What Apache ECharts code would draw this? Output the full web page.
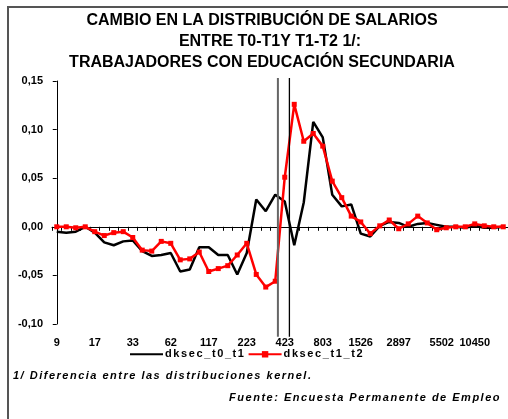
<!DOCTYPE html>
<html><head><meta charset="utf-8">
<script src="https://cdn.jsdelivr.net/npm/echarts@6/dist/echarts.min.js"></script>
<style>html,body{margin:0;padding:0;background:#fff}#c{width:508px;height:419px}</style>
</head><body><div id="c"></div>
<script>
// Optional letter-spacing for texts whose font family list includes a "trkNN" marker (NN = tenths of px)
(function(){
  var P = window.CanvasRenderingContext2D && CanvasRenderingContext2D.prototype;
  if (!P) return;
  var d = Object.getOwnPropertyDescriptor(P, 'font');
  if (!d || !('letterSpacing' in P)) return;
  Object.defineProperty(P, 'font', {
    configurable: true,
    get: function(){ return d.get.call(this); },
    set: function(v){
      d.set.call(this, v);
      var m = /trk(\d+)/.exec(v);
      this.letterSpacing = m ? (m[1] / 10) + 'px' : '0px';
    }
  });
})();

const categories = ['9','11','12','15','17','20','24','28','33','38','45','53','62','72','85','100',
  '117','137','161','189','223','261','307','360','423','496','582','684','803','942','1106','1298',
  '1526','1790','2101','2467','2897','3399','3991','4685','5502','6459','7583','8902','10450','12268','14402','16907'];

const dksec_t0_t1 = [-0.005,-0.006,-0.005,0.000,-0.006,-0.016,-0.019,-0.015,-0.014,-0.025,-0.030,-0.029,
  -0.027,-0.046,-0.044,-0.021,-0.021,-0.029,-0.029,-0.049,-0.027,0.028,0.016,0.033,0.026,-0.019,0.025,0.108,
  0.092,0.033,0.021,0.023,-0.007,-0.010,0.001,0.005,0.004,0.000,0.003,0.004,0.002,0.000,0.000,-0.001,0.001,
  -0.001,-0.001,0.000];

const dksec_t1_t2 = [0.000,0.000,-0.001,0.000,-0.005,-0.009,-0.006,-0.005,-0.011,-0.024,-0.025,-0.015,
  -0.017,-0.034,-0.033,-0.026,-0.046,-0.043,-0.040,-0.029,-0.017,-0.049,-0.062,-0.056,0.051,0.126,0.088,0.096,
  0.083,0.047,0.030,0.011,0.005,-0.007,0.001,0.007,-0.002,0.003,0.011,0.004,-0.003,-0.001,0.000,0.000,0.003,
  0.001,0.000,0.000];

// vertical reference lines: position on the category index scale, and their vertical extent
const refLineX = [23.28, 24.49];
const refLineRange = [-0.113, 0.153];

const yMin = -0.10, yMax = 0.15, yStep = 0.05;

const titleLines = ['CAMBIO EN LA DISTRIBUCIÓN DE SALARIOS', 'ENTRE T0-T1Y T1-T2 1/:', 'TRABAJADORES CON EDUCACIÓN SECUNDARIA'];
const noteText = '1/ Diferencia entre las distribuciones kernel.';
const sourceText = 'Fuente: Encuesta Permanente de Empleo';
const shiftedLabel = '5502';

const FF = '"Liberation Sans", Arial, sans-serif';
const FFT = '"Liberation Sans", Arial, trk16, sans-serif';
const FFN = '"Liberation Sans", Arial, trk15, sans-serif';

const chart = echarts.init(document.getElementById('c'), null, {renderer: 'canvas'});

const n = categories.length;
chart.setOption({
  animation: false,
  backgroundColor: '#fff',
  grid: {left: 52, top: 81, width: n * 9.625, height: 243},
  xAxis: [
    {
      type: 'category', data: categories, boundaryGap: true, position: 'bottom',
      axisLine: {onZero: true, lineStyle: {color: '#000', width: 1}},
      axisTick: {show: true, interval: 0, length: 4, lineStyle: {color: '#000', width: 1}},
      axisLabel: {show: false}, splitLine: {show: false}
    },
    {
      type: 'category', data: categories, boundaryGap: true, position: 'bottom',
      axisLine: {show: false, onZero: false}, axisTick: {show: false},
      axisLabel: {show: true, interval: 3, margin: 13, color: '#000', fontWeight: 'bold', fontSize: 11, fontFamily: FF,
        formatter: function(v){ return v === shiftedLabel ? '{s|' + v + '}' : v; },
        rich: {s: {color: '#000', fontWeight: 'bold', fontSize: 11, fontFamily: FF, padding: [0, 0, 0, 10]}}},
      splitLine: {show: false}
    },
    {
      type: 'value', min: -0.5, max: n - 0.5, show: false, position: 'top'
    }
  ],
  yAxis: {
    type: 'value', min: yMin, max: yMax, interval: yStep,
    axisLine: {show: true, lineStyle: {color: '#000', width: 1}},
    axisTick: {show: true, length: 4, lineStyle: {color: '#000'}},
    axisLabel: {margin: 9, color: '#000', fontWeight: 'bold', fontSize: 11, fontFamily: FF,
      formatter: function(v){ return v.toFixed(2).replace('.', ','); }},
    splitLine: {show: false}
  },
  legend: {
    left: 129, top: 348, padding: 0, itemWidth: 33, itemHeight: 8, itemGap: 2,
    data: [
      {name: 'dksec_t0_t1', itemStyle: {opacity: 0}},
      {name: 'dksec_t1_t2'}
    ],
    textStyle: {color: '#000', fontWeight: 'bold', fontSize: 11, fontFamily: FFT, padding: [0,0,0,-3]}
  },
  series: [
    {
      name: 'dksec_t0_t1', type: 'line', xAxisIndex: 0, data: dksec_t0_t1,
      symbol: 'none', lineStyle: {color: '#000', width: 2.5}, itemStyle: {color: '#000'}, z: 3
    },
    {
      name: 'dksec_t1_t2', type: 'line', xAxisIndex: 0, data: dksec_t1_t2,
      symbol: 'rect', symbolSize: 5, showAllSymbol: true,
      lineStyle: {color: '#ff0000', width: 2.5}, itemStyle: {color: '#ff0000'}, z: 4
    },
    {
      type: 'line', xAxisIndex: 2, clip: false, symbol: 'none', silent: true, z: 5,
      data: [[refLineX[0], refLineRange[1]], [refLineX[0], refLineRange[0]]],
      lineStyle: {color: '#666', width: 2}
    },
    {
      type: 'line', xAxisIndex: 2, clip: false, symbol: 'none', silent: true, z: 5,
      data: [[refLineX[1], refLineRange[1]], [refLineX[1], refLineRange[0]]],
      lineStyle: {color: '#000', width: 1.3}
    }
  ],
  graphic: [
    {type: 'line', silent: true, shape: {x1: 8, y1: 7, x2: 8, y2: 419}, style: {stroke: '#555', lineWidth: 2}},
    {type: 'line', silent: true, shape: {x1: 7, y1: 7, x2: 508, y2: 7}, style: {stroke: '#555', lineWidth: 2}},
    {type: 'text', x: 262, y: 21, style: {text: titleLines[0], font: 'bold 16px ' + FF, fill: '#000', textAlign: 'center', textVerticalAlign: 'middle'}},
    {type: 'text', x: 270, y: 42, style: {text: titleLines[1], font: 'bold 16px ' + FF, fill: '#000', textAlign: 'center', textVerticalAlign: 'middle'}},
    {type: 'text', x: 262, y: 63, style: {text: titleLines[2], font: 'bold 16px ' + FF, fill: '#000', textAlign: 'center', textVerticalAlign: 'middle'}},
    {type: 'text', x: 13, y: 376, style: {text: noteText, font: 'italic bold 11px ' + FFN, fill: '#000', textAlign: 'left', textVerticalAlign: 'middle'}},
    {type: 'text', x: 501, y: 398, style: {text: sourceText, font: 'italic bold 11px ' + FFN, fill: '#000', textAlign: 'right', textVerticalAlign: 'middle'}}
  ]
});
</script>
</body></html>
